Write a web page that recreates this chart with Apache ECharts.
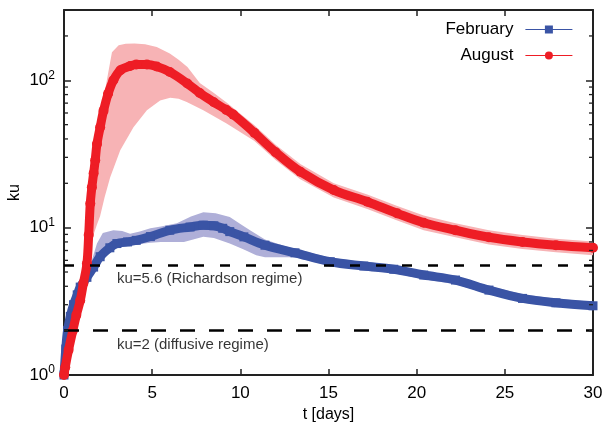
<!DOCTYPE html>
<html><head><meta charset="utf-8">
<script src="https://cdn.jsdelivr.net/npm/echarts@6/dist/echarts.min.js"></script>
<style>html,body{margin:0;padding:0;background:#fff}#c{width:606px;height:429px}</style>
</head><body><div id="c"></div>
<script>
// ---- data ----
const xTickValues = [0, 5, 10, 15, 20, 25, 30];
const yMinorTicks = [2,3,4,5,6,7,8,9,20,30,40,50,60,70,80,90,200];
const seriesNames = ['February', 'August'];

const augustLine = [[0,1.0],[0.07,1.13],[0.26,1.48],[0.5,2.0],[0.7,2.55],[0.92,3.2],[1.1,4.2],[1.3,5.7],[1.4,8.9],[1.49,14.6],[1.58,18.8],[1.68,23.4],[1.77,28.7],[1.87,37],[2.05,48],[2.24,62],[2.5,81],[2.8,100],[3.2,117],[3.75,125],[4.1,128],[4.7,128],[5.26,124],[6.0,114],[7.0,95],[7.7,82],[8.5,71],[9.2,63],[9.6,58.5],[10.8,44],[12.0,32.5],[13.4,24],[15.3,18],[17.2,15.0],[18.9,12.5],[20.4,10.8],[22.2,9.6],[24.1,8.6],[26.0,8.0],[27.9,7.6],[30,7.3]];
const augustUpper = [[0,1.05],[0.26,1.6],[0.5,2.15],[0.92,3.5],[1.1,4.6],[1.3,6.3],[1.49,16],[1.68,26],[1.87,41],[2.05,54],[2.24,75],[2.43,100],[2.72,155],[3.1,173],[3.5,177],[4.0,178],[4.6,176],[5.26,168],[6.0,152],[6.5,138],[7.0,123],[7.7,96],[8.5,82],[9.2,71],[10.8,49.5],[12.0,36.5],[13.4,27],[15.3,20],[17.2,16.8],[18.9,14],[20.4,12.1],[22.2,10.7],[24.1,9.6],[26.0,8.9],[27.9,8.4],[30,8.05]];
const augustLower = [[0,1.0],[0.26,1.35],[0.5,1.75],[0.92,2.7],[1.1,3.4],[1.3,4.8],[1.49,7],[1.68,9],[1.87,10.5],[2.05,12],[2.3,16],[2.62,22],[3.19,33.5],[3.94,48],[4.7,62.6],[5.45,73],[6.02,76],[6.5,75],[6.96,71.3],[7.9,62.6],[9.22,51],[10.8,38.8],[12.0,28.8],[13.4,21.3],[15.3,16],[17.2,13.4],[18.9,11.2],[20.4,9.6],[22.2,8.6],[24.1,7.7],[26.0,7.15],[27.9,6.8],[30,6.5]];

const februaryLine = [[0,1.0],[0.1,1.5],[0.2,2.0],[0.36,2.5],[0.54,3.0],[0.75,3.5],[0.92,3.95],[1.3,4.6],[1.68,5.4],[2.05,6.35],[2.6,7.3],[3.0,7.8],[3.6,8.0],[4.1,8.2],[4.9,8.7],[6.0,9.6],[7.15,10.1],[7.9,10.4],[8.5,10.3],[9.0,9.9],[9.4,9.4],[10.2,8.66],[11.4,7.6],[13.1,6.75],[15.1,5.87],[17.0,5.49],[18.7,5.22],[20.4,4.77],[22.2,4.41],[24.1,3.77],[26.0,3.31],[27.9,3.09],[30,2.95]];
const februaryUpper = [[0,1.05],[0.2,2.15],[0.54,3.2],[0.92,4.2],[1.3,4.9],[1.5,5.6],[1.87,7.8],[2.2,9.2],[2.8,9.6],[3.3,9.5],[3.75,9.1],[4.3,9.4],[4.9,9.9],[5.5,10.2],[6.4,10.7],[7.2,11.9],[7.9,12.7],[8.6,12.5],[9.4,11.8],[10.0,10.6],[10.55,9.6],[11.4,8.3],[12.5,7.5],[13.1,7.2],[15.1,6.25],[17.0,5.85],[18.7,5.55],[20.4,5.08],[22.2,4.7],[24.1,4.02],[26.0,3.53],[27.9,3.29],[30,3.14]];
const februaryLower = [[0,1.0],[0.2,1.9],[0.54,2.8],[0.92,3.7],[1.3,4.3],[1.68,5.1],[2.05,6.0],[2.6,6.9],[3.0,7.3],[3.6,7.5],[4.1,7.7],[4.9,7.9],[5.5,8.0],[6.0,8.0],[6.8,8.0],[7.9,8.66],[8.5,8.5],[9.4,7.8],[10.2,7.1],[10.9,6.5],[11.4,6.3],[13.1,6.3],[15.1,5.5],[17.0,5.15],[18.7,4.9],[20.4,4.47],[22.2,4.13],[24.1,3.53],[26.0,3.1],[27.9,2.9],[30,2.77]];

const refValues = [5.6, 2];
const refTexts = ['ku=5.6 (Richardson regime)', 'ku=2 (diffusive regime)'];

// ---- chart ----
const FONT = 'Liberation Sans, Arial, Helvetica, sans-serif';
const AX = '#222';
const chart = echarts.init(document.getElementById('c'), null, {renderer: 'canvas'});

function band(upper, lower, color) {
  return {
    type: 'custom', silent: true, z: 1,
    data: [[0, 1]],
    renderItem: function (params, api) {
      const pts = upper.map(p => api.coord(p)).concat(lower.slice().reverse().map(p => api.coord(p)));
      return {type: 'polygon', shape: {points: pts}, style: {fill: color}};
    }
  };
}

const axisLine = {show: true, onZero: false, lineStyle: {color: AX, width: 2}};
const option = {
  animation: false,
  backgroundColor: '#fff',
  textStyle: {fontFamily: FONT},
  grid: {left: 64, right: 13, top: 10, bottom: 54, containLabel: false, outerBoundsMode: 'none'},
  legend: {
    data: seriesNames,
    orient: 'vertical', right: 28, top: 16, align: 'right',
    itemWidth: 47, itemHeight: 10, itemGap: 9,
    textStyle: {fontSize: 17, color: '#000', fontFamily: FONT, padding: [0, 7, 0, 0]},
    lineStyle: {width: 1.2}
  },
  xAxis: [{
    type: 'value', min: 0, max: 30, interval: 5,
    name: 't [days]', nameLocation: 'middle', nameGap: 27,
    nameTextStyle: {fontSize: 16, color: '#000', fontFamily: FONT},
    axisLine: axisLine,
    axisTick: {show: true, inside: true, length: 6, lineStyle: {color: AX, width: 1.5}},
    axisLabel: {fontSize: 17, color: '#000', margin: 10, fontFamily: FONT},
    splitLine: {show: false}
  }, {
    type: 'value', min: 0, max: 30, interval: 5, position: 'top',
    axisLine: axisLine,
    axisTick: {show: true, inside: true, length: 6, lineStyle: {color: AX, width: 1.5}},
    axisLabel: {show: false}, splitLine: {show: false}
  }],
  yAxis: [{
    type: 'log', logBase: 10, min: 1, max: 300,
    name: 'ku', nameLocation: 'middle', nameGap: 41, nameRotate: 90, nameMoveOverlap: false,
    nameTextStyle: {fontSize: 16, color: '#000', fontFamily: FONT},
    axisLine: axisLine,
    axisTick: {show: true, inside: true, length: 7, lineStyle: {color: AX, width: 1.5}},
    minorTick: {show: false},
    axisLabel: {
      margin: 9, color: '#000', showMaxLabel: false,
      formatter: v => '{b|10}{s|' + Math.round(Math.log10(v)) + '}',
      rich: {
        b: {fontSize: 17, lineHeight: 22, fontFamily: FONT, color: '#000'},
        s: {fontSize: 12, lineHeight: 12, verticalAlign: 'top', fontFamily: FONT, color: '#000'}
      }
    },
    splitLine: {show: false}
  }, {
    type: 'log', logBase: 10, min: 1, max: 300, position: 'right',
    axisLine: axisLine,
    axisTick: {show: true, inside: true, length: 7, lineStyle: {color: AX, width: 1.5}},
    minorTick: {show: false},
    axisLabel: {show: false}, splitLine: {show: false}
  }],
  series: [
    band(augustUpper, augustLower, '#F7B3B5'),
    band(februaryUpper, februaryLower, '#AFAFD8'),
    {
      name: 'February', type: 'line', data: februaryLine, z: 3, clip: false,
      smooth: 0.35,
      symbol: 'rect', symbolSize: 9, showAllSymbol: true,
      itemStyle: {color: '#3A54A5'},
      lineStyle: {color: '#3A54A5', width: 9}
    },
    {
      name: 'August', type: 'line', data: augustLine, z: 4, clip: false,
      smooth: 0.35,
      symbol: 'circle', symbolSize: 10, showAllSymbol: true,
      itemStyle: {color: '#EE1D25'},
      lineStyle: {color: '#EE1D25', width: 9}
    },
    {
      name: 'refs', type: 'scatter', z: 6, silent: true,
      symbolSize: 0,
      data: [[3.0, 4.48, refTexts[0]], [3.0, 1.6, refTexts[1]]],
      label: {show: true, position: 'right', distance: 0, formatter: p => p.data[2],
              fontSize: 15, color: '#000', fontFamily: FONT},
      markLine: {
        silent: true, symbol: ['none', 'none'], z: 6,
        label: {show: false},
        data: [
          {yAxis: refValues[0], lineStyle: {color: '#000', width: 2.6, type: [10, 16]}},
          {yAxis: refValues[1], lineStyle: {color: '#000', width: 2.6, type: [15, 14]}}
        ]
      }
    },
    {
      type: 'custom', silent: true, z: 7,
      data: yMinorTicks.map(v => [0, v]),
      renderItem: function (params, api) {
        const y = api.coord([0, api.value(1)])[1];
        const cs = params.coordSys;
        return {type: 'group', children: [
          {type: 'line', shape: {x1: cs.x, y1: y, x2: cs.x + 4, y2: y}, style: {stroke: AX, lineWidth: 1.3}},
          {type: 'line', shape: {x1: cs.x + cs.width, y1: y, x2: cs.x + cs.width - 4, y2: y}, style: {stroke: AX, lineWidth: 1.3}}
        ]};
      }
    }
  ]
};
chart.setOption(option);
</script>
</body></html>
